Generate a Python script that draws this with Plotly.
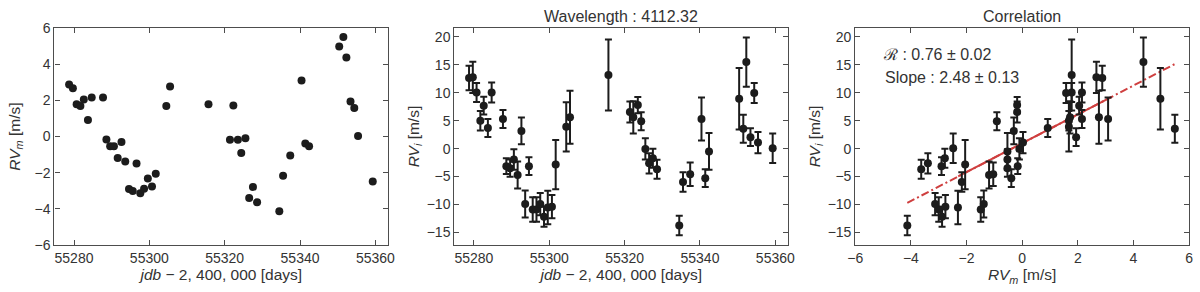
import plotly.graph_objects as go

# ---- data ----
days = [55278.7, 55279.7, 55280.7, 55281.7, 55282.6, 55283.7, 55284.7, 55287.7,
        55288.6, 55289.6, 55290.6, 55291.6, 55292.6, 55293.6, 55294.6, 55295.6,
        55296.6, 55297.6, 55298.6, 55299.6, 55300.7, 55301.7, 55304.5, 55305.5,
        55315.7, 55321.4, 55322.3, 55323.5, 55324.4, 55325.5, 55326.5, 55327.5,
        55328.6, 55334.5, 55335.5, 55337.4, 55340.4, 55341.4, 55342.4, 55350.4,
        55351.5, 55352.3, 55353.4, 55354.4, 55355.4, 55359.3]
rv_m = [2.88, 2.67, 1.78, 1.68, 2.05, 0.92, 2.15, 2.15,
        -0.16, -0.53, -0.53, -1.19, -0.30, -1.38, -2.90, -3.00,
        -1.49, -3.13, -2.88, -2.31, -2.76, -2.05, 1.68, 2.76,
        1.78, -0.18, 1.72, -0.18, -0.91, -0.10, -3.39, -2.78,
        -3.63, -4.13, -2.17, -1.04, 3.09, -0.39, -0.53, 4.97,
        5.49, 4.36, 1.94, 1.58, 0.03, -2.48]
rv_i = [12.66, 12.77, 10.06, 5.0, 7.7, 3.7, 10.06, 5.3,
        -3.15, -3.5, -1.96, -4.73, 3.17, -9.93, -3.15, -10.9,
        -10.9, -9.95, -12.2, -10.55, -10.4, -2.87, 3.9, 5.6,
        13.2, 6.56, 5.6, 7.8, 4.9, -0.05, -2.64, -1.74,
        -3.72, -13.8, -5.97, -4.6, 5.3, -5.3, -0.5, 8.93,
        3.57, 15.5, 2.05, 9.95, 1.08, 0.07]
rv_i_err = [2.2, 2.8, 1.7, 1.75, 1.6, 1.6, 1.8, 1.6,
            1.4, 1.55, 1.85, 2.4, 2.4, 2.4, 1.6, 2.2,
            2.2, 2.0, 1.8, 3.0, 2.1, 4.4, 4.4, 4.75,
            6.35, 1.9, 2.9, 1.45, 1.6, 1.9, 1.8, 1.7,
            1.7, 1.75, 1.75, 2.1, 3.85, 1.6, 3.3, 5.5,
            2.5, 4.4, 1.6, 1.8, 1.9, 2.65]

# fitted line as drawn in the correlation panel
fit_slope = 2.586
fit_intercept = 0.954
fit_x = [min(rv_m), max(rv_m)]
fit_y = [fit_intercept + fit_slope * v for v in fit_x]
solid_x = [-2.3, 3.2]
solid_y = [fit_intercept + fit_slope * v for v in solid_x]

time_ticks = [55280, 55300, 55320, 55340, 55360]
rvm_ticks = [-6, -4, -2, 0, 2, 4, 6]
rvi_ticks = [-15, -10, -5, 0, 5, 10, 15, 20]

title_mid = "Wavelength : 4112.32"
title_right = "Correlation"
text_r = "ℛ : 0.76 ± 0.02"
text_slope = "Slope : 2.48 ± 0.13"

# ---- styling ----
FONT = "Liberation Sans, Arial, sans-serif"
DOT = "#1c1c1c"
FRAME = "#4d4d4d"
TICKC = "#333333"
W, H = 1200, 292

def px(a, b):
    return [a / W, b / W]

ydom = [(H - 251) / H, (H - 21) / H]

fig = go.Figure()

marker = dict(color=DOT, size=8)
err = dict(type="data", array=rv_i_err, color=DOT, thickness=2, width=3.5)

fig.add_trace(go.Scatter(x=days, y=rv_m, mode="markers", marker=marker,
                         xaxis="x", yaxis="y", showlegend=False))
fig.add_trace(go.Scatter(x=days, y=rv_i, mode="markers", marker=marker,
                         error_y=err, xaxis="x2", yaxis="y2", showlegend=False))
fig.add_trace(go.Scatter(x=fit_x, y=fit_y, mode="lines",
                         line=dict(color="#cf3f3f", width=2, dash="8px,3px,2px,3px"),
                         xaxis="x3", yaxis="y3", showlegend=False))
fig.add_trace(go.Scatter(x=solid_x, y=solid_y, mode="lines",
                         line=dict(color="#cf3f3f", width=2),
                         xaxis="x3", yaxis="y3", showlegend=False))
fig.add_trace(go.Scatter(x=rv_m, y=rv_i, mode="markers", marker=marker,
                         error_y=err, xaxis="x3", yaxis="y3", showlegend=False))

def axis(**kw):
    d = dict(showgrid=False, zeroline=False, showline=True, linecolor=FRAME,
             linewidth=1.2, mirror="ticks", ticks="inside", ticklen=5,
             tickcolor=FRAME, tickwidth=1, tickformat="d",
             ticklabeloverflow="allow",
             tickfont=dict(family=FONT, size=14, color=TICKC))
    d.update(kw)
    return d

def ttl(text, standoff):
    return dict(text=text, font=dict(family=FONT, size=15.5, color=TICKC),
                standoff=standoff)

xtitle_time = "<i>jdb</i> − 2, 400, 000 [days]"

fig.update_layout(
    width=W, height=H,
    margin=dict(l=0, r=0, t=0, b=0),
    paper_bgcolor="white", plot_bgcolor="white",
    xaxis=axis(domain=px(47, 385), range=[55274.8, 55363.4],
               tickvals=time_ticks, anchor="y", title=ttl(xtitle_time, 4)),
    yaxis=axis(domain=ydom, range=[-6.001, 6.001], tickvals=rvm_ticks,
               anchor="x", title=ttl("<i>RV<sub>m</sub></i> [m/s]", 10)),
    xaxis2=axis(domain=px(452, 790), range=[55274.8, 55363.4],
                tickvals=time_ticks, anchor="y2", title=ttl(xtitle_time, 4)),
    yaxis2=axis(domain=ydom, range=[-17.32, 21.64], tickvals=rvi_ticks,
                anchor="x2", title=ttl("<i>RV<sub>i</sub></i> [m/s]", 3)),
    xaxis3=axis(domain=px(858, 1196), range=[-6.001, 6.001], tickvals=rvm_ticks,
                anchor="y3", title=ttl("<i>RV<sub>m</sub></i> [m/s]", 4)),
    yaxis3=axis(domain=ydom, range=[-17.32, 21.64], tickvals=rvi_ticks,
                anchor="x3", title=ttl("<i>RV<sub>i</sub></i> [m/s]", 3)),
    annotations=[
        dict(text=title_mid, x=(452 + 790) / 2 / W, y=(H - 9) / H, xref="paper",
             yref="paper", showarrow=False, xanchor="center", yanchor="middle",
             font=dict(family=FONT, size=16, color=TICKC)),
        dict(text=title_right, x=(858 + 1196) / 2 / W, y=(H - 9) / H, xref="paper",
             yref="paper", showarrow=False, xanchor="center", yanchor="middle",
             font=dict(family=FONT, size=16, color=TICKC)),
        dict(text=text_r, x=884 / W, y=(H - 49) / H, xref="paper", yref="paper",
             showarrow=False, xanchor="left", yanchor="middle",
             font=dict(family=FONT, size=16, color=TICKC)),
        dict(text=text_slope, x=886 / W, y=(H - 73) / H, xref="paper", yref="paper",
             showarrow=False, xanchor="left", yanchor="middle",
             font=dict(family=FONT, size=16, color=TICKC)),
    ],
)

fig.write_html(
    "out.html",
    config={"displayModeBar": False},
    post_script="document.body.style.margin='0';document.body.style.overflow='hidden';",
)
